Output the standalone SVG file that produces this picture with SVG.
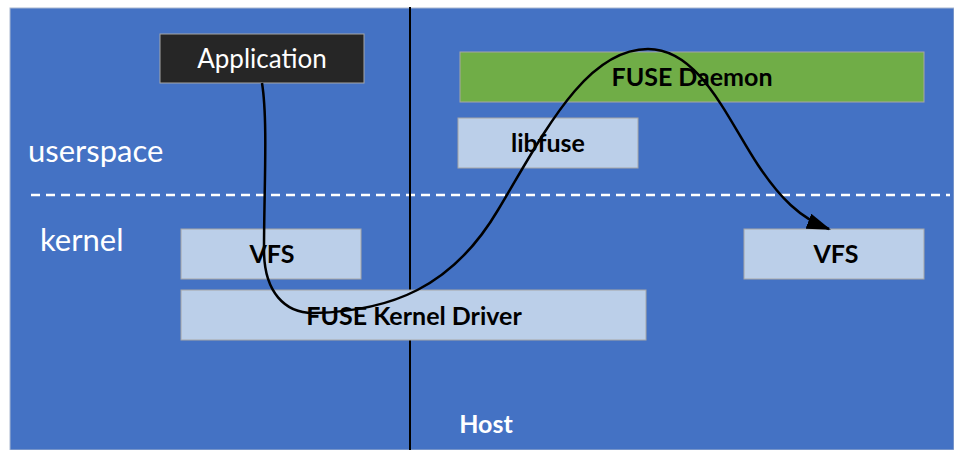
<svg xmlns="http://www.w3.org/2000/svg" width="954" height="450" viewBox="0 0 954 450">
<defs>
<style>
.box{stroke:#A6A6A6;stroke-width:1}
.lb{fill:#BBCFE9}
.bt{font-family:Lato,"Open Sans",sans-serif;font-weight:bold;font-size:25px;fill:#000;text-anchor:middle}
.wt{font-family:Lato,"Open Sans",sans-serif;font-size:31px;fill:#fff}
.conn{fill:none;stroke:#000;stroke-width:2.5}
</style>
<marker id="ah" viewBox="0 0 24 16" refX="22" refY="8" markerWidth="24" markerHeight="16" markerUnits="userSpaceOnUse" orient="auto">
<path d="M0,0 L24,8 L0,16 z" fill="#000"/>
</marker>
</defs>
<rect x="0" y="0" width="954" height="450" fill="#fff"/>
<rect x="10" y="8" width="944" height="442" fill="#4472C4" stroke="#A9B7CF" stroke-width="1"/>
<line x1="31" y1="195" x2="950" y2="195" stroke="#fff" stroke-width="2.5" stroke-dasharray="9,6"/>
<line x1="410" y1="7" x2="410" y2="450" stroke="#000" stroke-width="2"/>
<text class="wt" x="28" y="162">userspace</text>
<text class="wt" x="40" y="251">kernel</text>
<g id="app"><rect class="box" x="160" y="34" width="204" height="49" fill="#262626"/><text x="262" y="68" font-family="Lato,'Open Sans',sans-serif" font-size="26" fill="#fff" text-anchor="middle">Application</text></g>
<g id="daemon"><rect class="box" x="460" y="52" width="464" height="50" fill="#70AD47"/><text class="bt" x="692" y="86">FUSE Daemon</text></g>
<g id="libfuse"><rect class="box lb" x="458" y="118" width="180" height="50"/><text class="bt" x="548" y="152">libfuse</text></g>
<g id="vfs1"><rect class="box lb" x="181" y="229" width="180" height="50"/><text class="bt" x="272" y="263">VFS</text></g>
<g id="driver"><rect class="box lb" x="181" y="290" width="465" height="50"/><text class="bt" x="414" y="325">FUSE Kernel Driver</text></g>
<g id="vfs2"><rect class="box lb" x="744" y="229" width="180" height="50"/><text class="bt" x="836" y="263">VFS</text></g>
<g id="host"><text x="486" y="433" font-family="Lato,'Open Sans',sans-serif" font-weight="bold" font-size="25" fill="#fff" text-anchor="middle">Host</text></g>
<g id="connectors">
<path class="conn" marker-end="url(#ah)" d="M262,83 C268,120 264,190 264,250 C264,292 285,314 315,313 C390,311 452,288 498,210 C543,135 585,49 648,49 C700,49 728,120 758,165 C780,198 800,218 829,229"/>
</g>
</svg>
